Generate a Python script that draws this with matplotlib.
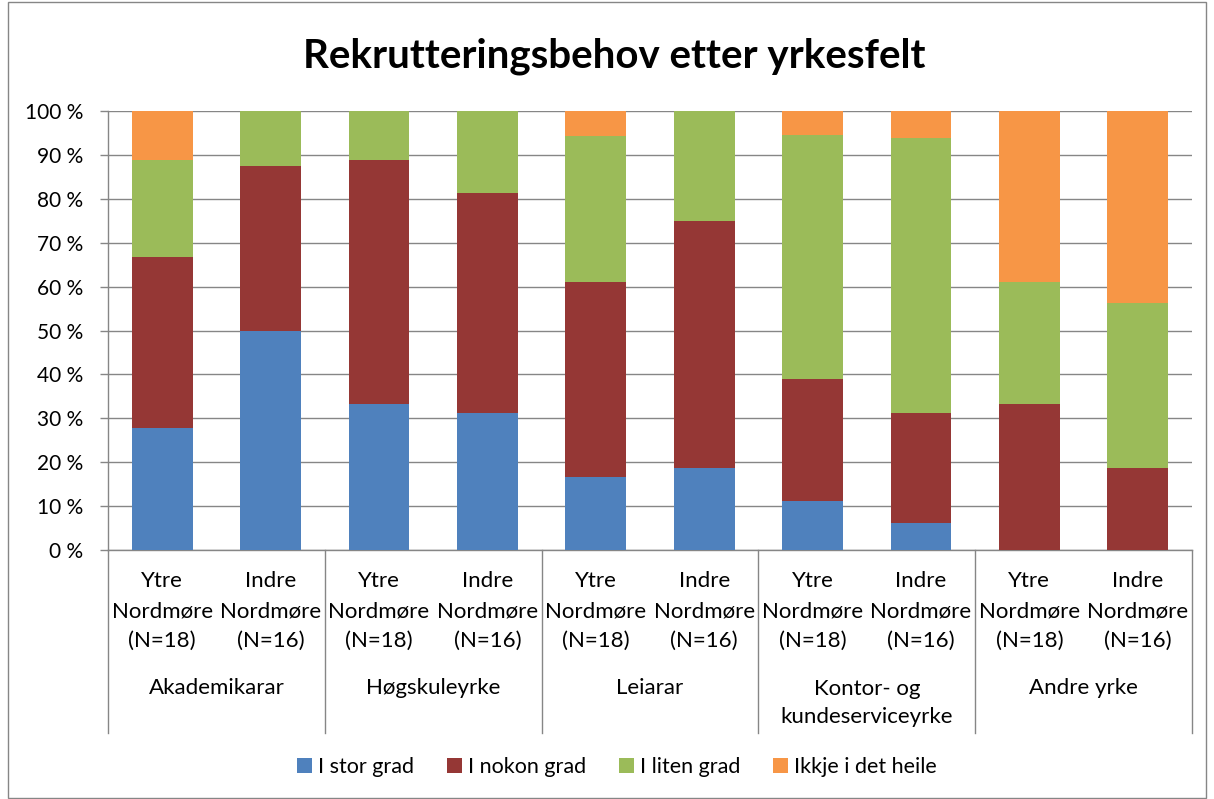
import matplotlib
matplotlib.use("Agg")
import matplotlib.pyplot as plt
from matplotlib.patches import Rectangle, Patch
from matplotlib.lines import Line2D
import numpy as np

plt.rcParams['font.family'] = ['Lato', 'DejaVu Sans']

title = "Rekrutteringsbehov etter yrkesfelt"
groups = ["Akademikarar", "Høgskuleyrke", "Leiarar", "Kontor- og\nkundeserviceyrke", "Andre yrke"]
sub_labels = ["Ytre\nNordmøre\n(N=18)", "Indre\nNordmøre\n(N=16)"]
series_names = ["I stor grad", "I nokon grad", "I liten grad", "Ikkje i det heile"]
colors = ["#4F81BD", "#953735", "#9BBB59", "#F79646"]

stor_grad   = [27.8, 50.0, 33.3, 31.25, 16.7, 18.75, 11.1, 6.25, 0.0, 0.0]
nokon_grad  = [38.9, 37.5, 55.6, 50.0, 44.4, 56.25, 27.8, 25.0, 33.3, 18.75]
liten_grad  = [22.2, 12.5, 11.1, 18.75, 33.3, 25.0, 55.6, 62.5, 27.8, 37.5]
ikkje       = [11.1, 0.0, 0.0, 0.0, 5.6, 0.0, 5.6, 6.25, 38.9, 43.75]
yticks = [0, 10, 20, 30, 40, 50, 60, 70, 80, 90, 100]
ytick_labels = ["0 %", "10 %", "20 %", "30 %", "40 %", "50 %", "60 %", "70 %", "80 %", "90 %", "100 %"]

W, H = 1214, 799
fig = plt.figure(figsize=(W / 100, H / 100), dpi=100)
ax = fig.add_axes([108 / W, 1 - 550 / H, (1192 - 108) / W, (550 - 111) / H])

x = np.arange(10) + 0.5
bottom = np.zeros(10)
for vals, c, name in zip([stor_grad, nokon_grad, liten_grad, ikkje], colors, series_names):
    v = np.array(vals)
    ax.bar(x, v, width=0.56, bottom=bottom, color=c, label=name, zorder=3)
    bottom += v

ax.set_xlim(0, 10)
ax.set_ylim(0, 100)
ax.set_yticks(yticks)
ax.set_yticklabels(ytick_labels, fontsize=15)
ax.tick_params(axis='y', length=6, color="#868686", width=1, pad=12)
ax.set_xticks([])
ax.grid(axis='y', color="#868686", linewidth=1, zorder=0)
for s in ['top', 'right']:
    ax.spines[s].set_visible(False)
for s in ['left', 'bottom']:
    ax.spines[s].set_color("#868686")
    ax.spines[s].set_linewidth(1)

trans = ax.get_xaxis_transform()
ax_h_px = 550 - 111
def ypx(py):
    return (550 - py) / ax_h_px

for gx in [0, 2, 4, 6, 8, 10]:
    ax.add_line(Line2D([gx, gx], [0, ypx(733)], transform=trans, color="#868686",
                       linewidth=1, clip_on=False))

for i in range(10):
    ax.text(x[i], ypx(611), sub_labels[i % 2], transform=trans, ha='center', va='center',
            fontsize=16, linespacing=1.6)
for g, name in enumerate(groups):
    if '\n' in name:
        ax.text(2 * g + 1, ypx(703), name, transform=trans, ha='center', va='center',
                fontsize=16, linespacing=1.55)
    else:
        ax.text(2 * g + 1, ypx(688), name, transform=trans, ha='center', va='center',
                fontsize=16)

fig.text(614 / W, 1 - 56 / H, title, ha='center', va='center', fontsize=29, fontweight='bold')

handles = [Patch(facecolor=c, edgecolor='none') for c in colors]
fig.legend(handles, series_names, loc='center', bbox_to_anchor=(617 / W, 1 - 767 / H),
           ncol=4, frameon=False, fontsize=15.5, handlelength=0.7, handleheight=0.7,
           handletextpad=0.3, columnspacing=1.5)

fig.patches.append(Rectangle((8 / W, 1 / H), (1206 - 8) / W, (797 - 1) / H, transform=fig.transFigure,
                             fill=False, edgecolor="#868686", linewidth=1))

fig.savefig("out.png", dpi=100)
